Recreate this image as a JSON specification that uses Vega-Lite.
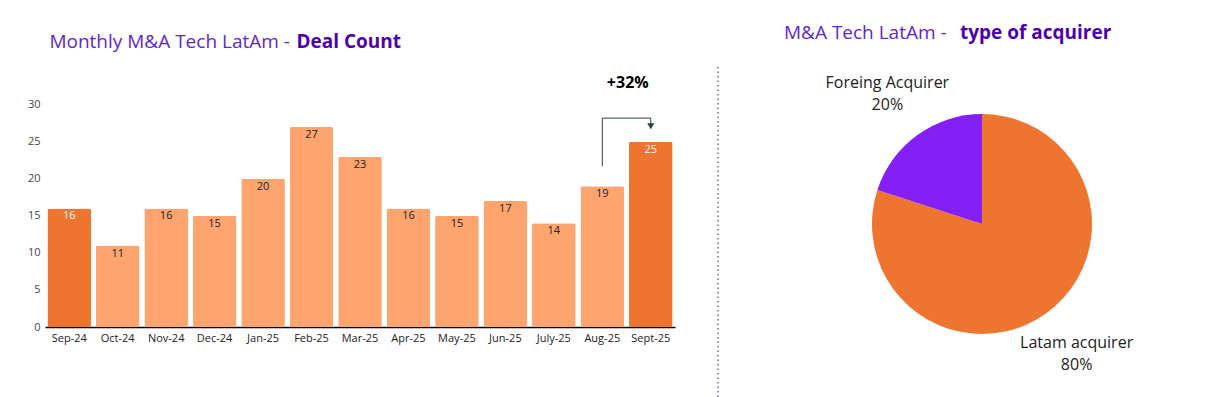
{
  "$schema": "https://vega.github.io/schema/vega-lite/v6.json",
  "padding": {"left": 27, "top": 24, "right": 5, "bottom": 0},
  "bounds": "flush",
  "spacing": 43,
  "config": {
    "view": {"stroke": null},
    "font": "Open Sans",
    "axis": {"labelFont": "Open Sans", "labelFontSize": 11, "labelColor": "#333333", "ticks": false, "grid": false, "title": null}
  },
  "hconcat": [
    {
      "width": 630,
      "height": 260,
      "title": {
        "text": "Monthly M&A Tech LatAm - ",
        "subtitle": "Deal Count",
        "anchor": "start",
        "dx": 22,
        "offset": 15,
        "font": "Open Sans",
        "fontSize": 19,
        "fontWeight": "normal",
        "color": "#6226CC",
        "subtitleFont": "Open Sans",
        "subtitleFontSize": 19,
        "subtitleFontWeight": "bold",
        "subtitleColor": "#4F00AD",
        "subtitlePadding": -19,
        "encode": {"subtitle": {"update": {"dx": {"value": 269}}}}
      },
      "data": {
        "values": [
          {"month": "Sep-24", "deals": 16},
          {"month": "Oct-24", "deals": 11},
          {"month": "Nov-24", "deals": 16},
          {"month": "Dec-24", "deals": 15},
          {"month": "Jan-25", "deals": 20},
          {"month": "Feb-25", "deals": 27},
          {"month": "Mar-25", "deals": 23},
          {"month": "Apr-25", "deals": 16},
          {"month": "May-25", "deals": 15},
          {"month": "Jun-25", "deals": 17},
          {"month": "July-25", "deals": 14},
          {"month": "Aug-25", "deals": 19},
          {"month": "Sept-25", "deals": 25}
        ]
      },
      "layer": [
        {
          "mark": {"type": "bar", "cornerRadius": 2},
          "encoding": {
            "x": {
              "field": "month", "type": "nominal", "sort": null,
              "scale": {"paddingInner": 0.1, "paddingOuter": 0.05},
              "axis": {"labelAngle": 0, "domainColor": "#000000", "domainWidth": 1.5, "labelPadding": 5, "labelColor": "#222222"}
            },
            "y": {
              "field": "deals", "type": "quantitative",
              "scale": {"domain": [0, 35.1], "nice": false},
              "axis": {"values": [0, 5, 10, 15, 20, 25, 30], "domain": false, "labelPadding": 5, "labelColor": "#444444"}
            },
            "color": {
              "condition": {"test": "datum.month === 'Sep-24' || datum.month === 'Sept-25'", "value": "#EE7530"},
              "value": "#FDA46F"
            }
          }
        },
        {
          "mark": {"type": "text", "baseline": "middle", "dy": 8, "fontSize": 11},
          "encoding": {
            "x": {"field": "month", "type": "nominal", "sort": null},
            "y": {"field": "deals", "type": "quantitative"},
            "text": {"field": "deals", "type": "quantitative"},
            "color": {
              "condition": {"test": "datum.month === 'Sep-24' || datum.month === 'Sept-25'", "value": "#FFFFFF"},
              "value": "#222222"
            }
          }
        },
        {
          "data": {
            "values": [
              {"month": "Aug-25", "level": 21.7, "step": 1},
              {"month": "Aug-25", "level": 28.2, "step": 2},
              {"month": "Sept-25", "level": 28.2, "step": 3},
              {"month": "Sept-25", "level": 27.2, "step": 4}
            ]
          },
          "mark": {"type": "line", "color": "#2F3B4C", "strokeWidth": 1},
          "encoding": {
            "x": {"field": "month", "type": "nominal", "sort": null},
            "y": {"field": "level", "type": "quantitative"},
            "order": {"field": "step", "type": "quantitative"}
          }
        },
        {
          "data": {"values": [{"month": "Sept-25", "level": 27.1}]},
          "mark": {"type": "point", "shape": "triangle-down", "filled": true, "size": 50, "color": "#2F3B4C", "opacity": 1},
          "encoding": {
            "x": {"field": "month", "type": "nominal", "sort": null},
            "y": {"field": "level", "type": "quantitative"}
          }
        },
        {
          "data": {"values": [{"month": "Sept-25", "level": 32.9, "note": "+32%"}]},
          "mark": {"type": "text", "fontWeight": "bold", "fontSize": 16, "dx": -23, "color": "#000000"},
          "encoding": {
            "x": {"field": "month", "type": "nominal", "sort": null},
            "y": {"field": "level", "type": "quantitative"},
            "text": {"field": "note", "type": "nominal"}
          }
        }
      ]
    },
    {
      "width": 64,
      "height": 330,
      "data": {"values": [{"divider": "panel"}]},
      "mark": {"type": "rule", "strokeDash": [1.5, 3], "color": "#3A4A66", "strokeWidth": 1.2},
      "encoding": {
        "x": {"datum": 0, "type": "quantitative", "scale": {"domain": [0, 1]}, "axis": null}
      }
    },
    {
      "width": 314,
      "height": 314,
      "title": {
        "text": "M&A Tech LatAm - ",
        "subtitle": "type of acquirer",
        "anchor": "start",
        "dx": -41,
        "offset": 24,
        "font": "Open Sans",
        "fontSize": 19,
        "fontWeight": "normal",
        "color": "#6226CC",
        "subtitleFont": "Open Sans",
        "subtitleFontSize": 19,
        "subtitleFontWeight": "bold",
        "subtitleColor": "#4F00AD",
        "subtitlePadding": -19,
        "encode": {"subtitle": {"update": {"dx": {"value": 135}}}}
      },
      "data": {
        "values": [
          {"acquirer": "Latam acquirer", "share": 80},
          {"acquirer": "Foreing Acquirer", "share": 20}
        ]
      },
      "transform": [
        {"calculate": "datum.acquirer + '\\n' + datum.share + '%'", "as": "label"}
      ],
      "encoding": {
        "theta": {"field": "share", "type": "quantitative", "stack": true},
        "order": {"field": "share", "type": "quantitative", "sort": "descending"},
        "color": {
          "field": "acquirer", "type": "nominal",
          "scale": {"domain": ["Latam acquirer", "Foreing Acquirer"], "range": ["#EE7530", "#8420F5"]},
          "legend": null
        }
      },
      "layer": [
        {"mark": {"type": "arc", "outerRadius": 110}},
        {
          "mark": {"type": "text", "radius": 161, "fontSize": 16, "lineBreak": "\n", "lineHeight": 22, "baseline": "middle", "dy": -11},
          "encoding": {
            "text": {"field": "label", "type": "nominal"},
            "color": {"value": "#222222"}
          }
        }
      ]
    }
  ]
}
